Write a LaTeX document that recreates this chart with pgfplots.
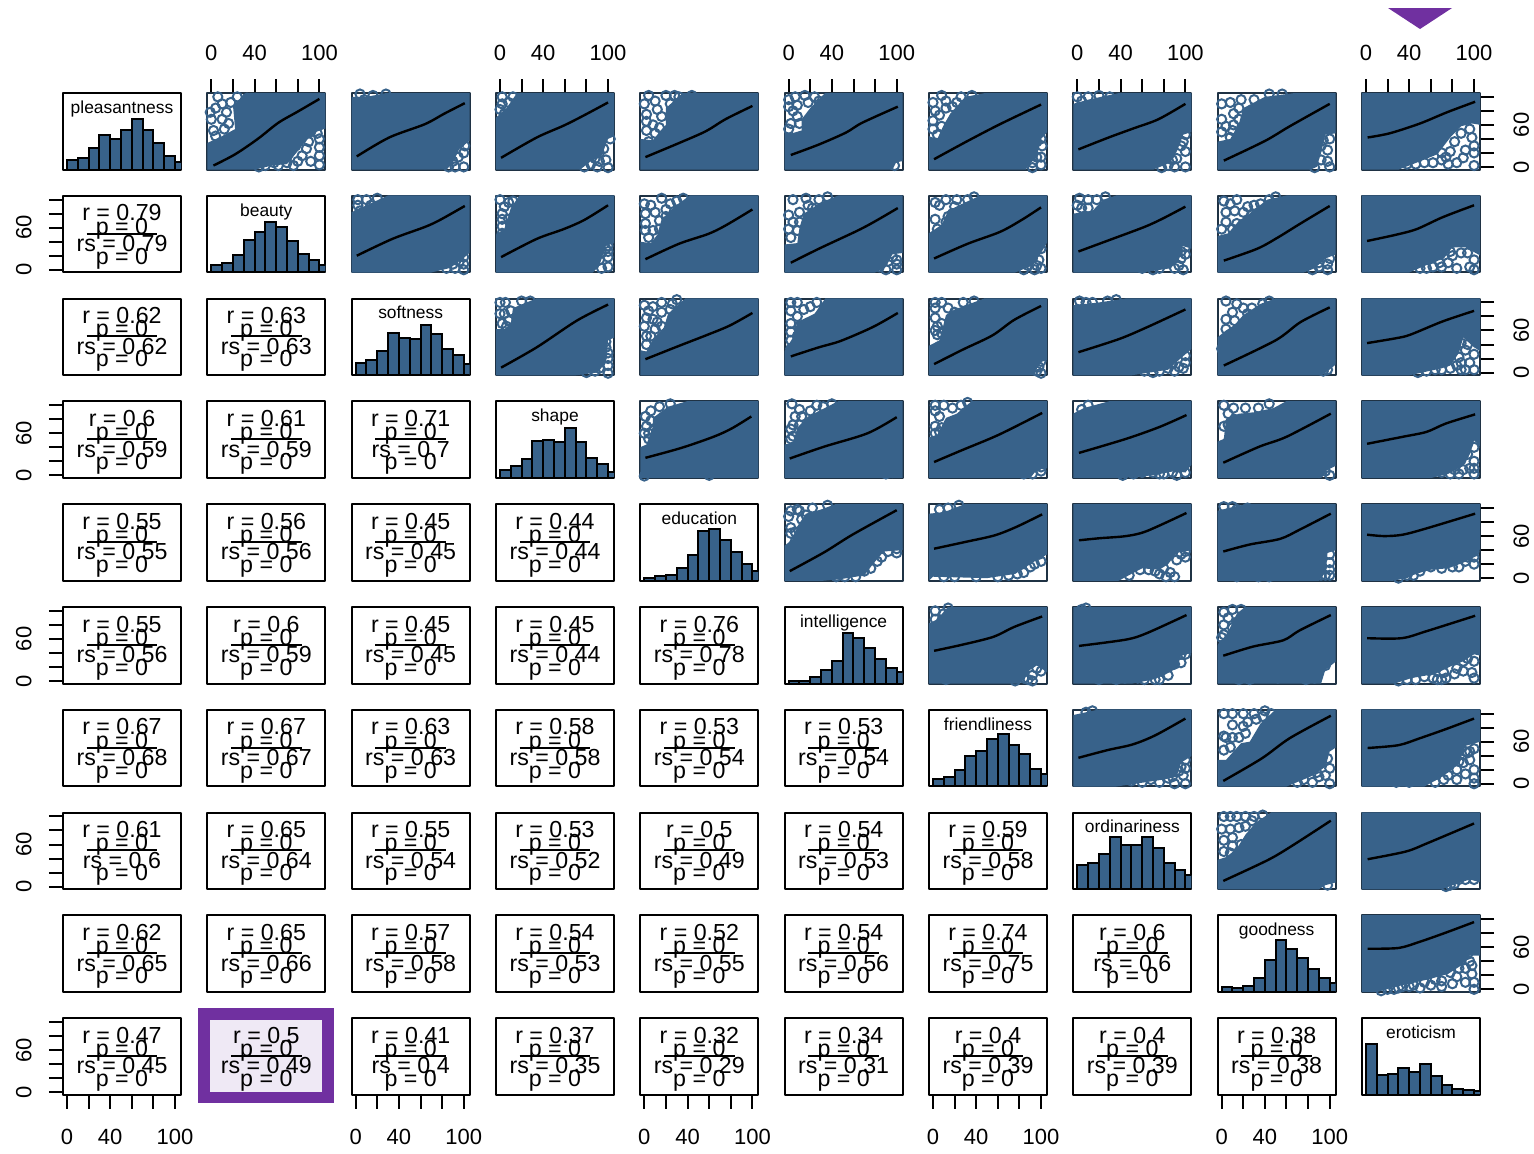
\documentclass[border=0pt]{standalone}
\usepackage{fontspec}
\setmainfont{Liberation Sans}
\usepackage{pgfplots}
\pgfplotsset{compat=1.18}
\definecolor{cblue}{HTML}{38628A}
\definecolor{cframe}{HTML}{1F3244}
\definecolor{cpurple}{HTML}{7030A0}
\definecolor{clav}{HTML}{EFE9F5}
\newcommand\tfont{\fontsize{11}{13}\selectfont}
\newcommand\lfont{\fontsize{8.7}{10}\selectfont}
\newcommand\cfont{\fontsize{11.6}{13}\selectfont}
\pgfplotsset{
 panel/.style={scale only axis,width=59pt,height=38.25pt,anchor=north west,
  xmin=-3.7,xmax=105.5,ymin=-3.7,ymax=105.5,xtick=\empty,ytick=\empty,
  axis line style={line width=1pt,line join=round},
  tick style={line width=1pt,black},tick align=outside,major tick length=7pt,
  tick label style={inner sep=0pt,font=\tfont}},
 topt/.style={xtick={0,20,40,60,80,100},xticklabels={0,,40,,,100},xtick pos=top,xticklabel pos=top,
  xticklabel style={anchor=south,yshift=9pt}},
 bott/.style={xtick={0,20,40,60,80,100},xticklabels={0,,40,,,100},xtick pos=bottom,xticklabel pos=bottom,
  xticklabel style={anchor=north,yshift=-10pt}},
 leftt/.style={ytick={0,20,40,60,80,100},yticklabels={0,,,60,,},ytick pos=left,yticklabel pos=left,
  yticklabel style={rotate=90,anchor=south,yshift=8.5pt}},
 rightt/.style={ytick={0,20,40,60,80,100},yticklabels={0,,,60,,},ytick pos=right,yticklabel pos=right,
  yticklabel style={rotate=90,anchor=north,yshift=-9.5pt}},
 t1-2/.style={topt},t1-4/.style={topt},t1-6/.style={topt},t1-8/.style={topt},t1-10/.style={topt},
 t10-1/.style={bott,leftt},t10-3/.style={bott},t10-5/.style={bott},t10-7/.style={bott},t10-9/.style={bott},
 t2-1/.style={leftt},t4-1/.style={leftt},t6-1/.style={leftt},t8-1/.style={leftt},
 t1-10x/.style={rightt},t3-10/.style={rightt},t5-10/.style={rightt},t7-10/.style={rightt},t9-10/.style={rightt},
}
\newcommand\setpos[2]{%
 \pgfmathsetmacro\PX{(63+144.33*(#2-1))*0.5}%
 \pgfmathsetmacro\PY{-(93+102.8*(#1-1))*0.5}}
% scatter panel: row, col, dense cloud outline, readable outlying points, smoother
\newcommand\Sc[5]{\setpos{#1}{#2}%
 \begin{axis}[panel,at={(\PX pt,\PY pt)},axis line style={draw=cframe},t#1-#2/.try,t#1-#2x/.try]
 \addplot[draw=none,fill=cblue] coordinates {#3} --cycle;
 \addplot[only marks,mark=o,mark size=2.3pt,draw=cblue,mark options={line width=1pt}] coordinates {#4};
 \addplot[black,line width=1.2pt,line join=round,smooth,tension=.5] coordinates {#5};
 \end{axis}}
% histogram panel
\newcommand\Hi[4]{\setpos{#1}{#1}%
 \begin{axis}[panel,at={(\PX pt,\PY pt)},ymin=0,ymax=228,axis line style={black}]
 \addplot[ybar interval,fill=cblue,draw=black,line width=1pt] coordinates {#4};
 \node[anchor=base,font=\lfont,inner sep=0pt] at (rel axis cs:0.5,0.735) {#3};
 \end{axis}}
% correlation panel
\newcommand\Co[4]{\setpos{#1}{#2}%
 \begin{axis}[panel,at={(\PX pt,\PY pt)},axis line style={black},t#1-#2/.try]
 \Cotext{#3}{#4}
 \end{axis}}
\newcommand\Cotext[2]{%
 \node[anchor=base,font=\cfont,inner sep=0pt] at (rel axis cs:0.5,0.673) {r = #1};
 \node[anchor=base,font=\cfont,inner sep=0pt] at (rel axis cs:0.5,0.499) {p = 0};
 \draw[black,line width=1pt] (rel axis cs:0.2,0.507) -- (rel axis cs:0.8,0.507);
 \node[anchor=base,font=\cfont,inner sep=0pt] at (rel axis cs:0.5,0.272) {rs = #2};
 \node[anchor=base,font=\cfont,inner sep=0pt] at (rel axis cs:0.5,0.107) {p = 0};}
\begin{document}
\begin{tikzpicture}[x=1pt,y=1pt]
\path[use as bounding box] (0,0) rectangle (767,-576.5);
\fill[cpurple] (694,-4) -- (726,-4) -- (710,-14.5) -- cycle;
\fill[cpurple] (99,-504) rectangle (167,-551.5);
\fill[clav] (105,-510) rectangle (161,-546);

\Hi{1}{1}{pleasantness}{(0,27)(10,34)(20,63)(30,102)(40,92)(50,117)(60,151)(70,117)(80,79)(90,40)(100,22)(110,0)}
\Hi{2}{2}{beauty}{(0,23)(10,27)(20,53)(30,95)(40,121)(50,150)(60,134)(70,92)(80,56)(90,36)(100,23)(110,0)}
\Hi{3}{3}{softness}{(0,37)(10,46)(20,72)(30,125)(40,111)(50,107)(60,150)(70,122)(80,79)(90,59)(100,32)(110,0)}
\Hi{4}{4}{shape}{(0,23)(10,37)(20,55)(30,110)(40,113)(50,107)(60,150)(70,107)(80,59)(90,40)(100,17)(110,0)}
\Hi{5}{5}{education}{(0,8)(10,13)(20,18)(30,38)(40,77)(50,148)(60,153)(70,120)(80,87)(90,51)(100,30)(110,0)}
\Hi{6}{6}{intelligence}{(0,7)(10,9)(20,19)(30,39)(40,67)(50,152)(60,137)(70,107)(80,72)(90,47)(100,34)(110,0)}
\Hi{7}{7}{friendliness}{(0,23)(10,28)(20,48)(30,90)(40,106)(50,141)(60,155)(70,122)(80,96)(90,53)(100,36)(110,0)}
\Hi{8}{8}{ordinariness}{(0,72)(10,77)(20,104)(30,155)(40,131)(50,131)(60,155)(70,122)(80,77)(90,57)(100,42)(110,0)}
\Hi{9}{9}{goodness}{(0,14)(10,11)(20,17)(30,43)(40,95)(50,155)(60,128)(70,101)(80,69)(90,43)(100,28)(110,0)}
\Hi{10}{10}{eroticism}{(0,150)(10,59)(20,63)(30,79)(40,69)(50,92)(60,55)(70,30)(80,17)(90,13)(100,10)(110,0)}

\Co{2}{1}{0.79}{0.79}
\Co{3}{1}{0.62}{0.62}\Co{3}{2}{0.63}{0.63}
\Co{4}{1}{0.6}{0.59}\Co{4}{2}{0.61}{0.59}\Co{4}{3}{0.71}{0.7}
\Co{5}{1}{0.55}{0.55}\Co{5}{2}{0.56}{0.56}\Co{5}{3}{0.45}{0.45}\Co{5}{4}{0.44}{0.44}
\Co{6}{1}{0.55}{0.56}\Co{6}{2}{0.6}{0.59}\Co{6}{3}{0.45}{0.45}\Co{6}{4}{0.45}{0.44}\Co{6}{5}{0.76}{0.78}
\Co{7}{1}{0.67}{0.68}\Co{7}{2}{0.67}{0.67}\Co{7}{3}{0.63}{0.63}\Co{7}{4}{0.58}{0.58}\Co{7}{5}{0.53}{0.54}\Co{7}{6}{0.53}{0.54}
\Co{8}{1}{0.61}{0.6}\Co{8}{2}{0.65}{0.64}\Co{8}{3}{0.55}{0.54}\Co{8}{4}{0.53}{0.52}\Co{8}{5}{0.5}{0.49}\Co{8}{6}{0.54}{0.53}\Co{8}{7}{0.59}{0.58}
\Co{9}{1}{0.62}{0.65}\Co{9}{2}{0.65}{0.66}\Co{9}{3}{0.57}{0.58}\Co{9}{4}{0.54}{0.53}\Co{9}{5}{0.52}{0.55}\Co{9}{6}{0.54}{0.56}\Co{9}{7}{0.74}{0.75}\Co{9}{8}{0.6}{0.6}
\Co{10}{1}{0.47}{0.45}
\setpos{10}{2}
\begin{axis}[panel,at={(\PX pt,\PY pt)},axis line style={draw=none}]
\Cotext{0.5}{0.49}
\end{axis}
\Co{10}{3}{0.41}{0.4}\Co{10}{4}{0.37}{0.35}\Co{10}{5}{0.32}{0.29}\Co{10}{6}{0.34}{0.31}\Co{10}{7}{0.4}{0.39}\Co{10}{8}{0.4}{0.39}\Co{10}{9}{0.38}{0.38}

\Sc{1}{2}{(-4,34)(10,44)(22,54)(20,88)(33,106)(106,106)(106,55)(97,50)(88,38)(76,15)(70,4)(56,2)(40,-4)(-4,-4)}{(10,68)(0,68)(18,92)(2,52)(33,98)(4,84)(100,28)(100,16)(100,3)(80,8)(88,26)(98,48)(70,6)(58,6)(6,100)(14,78)(4,44)(12,54)(-1,78)(24,100)(10,90)(16,62)(92,50)(84,42)(90,36)(100,40)(78,30)(92,8)(84,16)(70,14)(62,2)(50,2)(76,2)(44,0)}{(2,2)(22,18)(43,40)(62,63)(80,79)(100,97)}
\Sc{1}{3}{(-4,100)(10,100)(30,106)(106,106)(106,38)(96,26)(90,6)(84,-4)(-4,-4)}{(8,96)(95,14)(100,0)(100,20)(101,30)(4,104)(16,102)(28,104)(96,34)(90,8)(92,0)(86,0)}{(1,15)(31,42)(64,61)(82,76)(101,91)}
\Sc{1}{4}{(-4,70)(6,84)(16,106)(106,106)(106,44)(100,40)(94,16)(84,8)(74,-4)(-4,-4)}{(4,76)(8,92)(2,90)(96,26)(98,10)(100,-1)(84,4)(88,12)(2,100)(12,100)(0,82)(92,8)(90,0)(78,0)(102,40)(92,20)}{(1,13)(34,42)(59,59)(77,73)(100,92)}
\Sc{1}{5}{(-4,40)(8,38)(14,50)(20,60)(20,84)(36,106)(106,106)(106,-4)(-4,-4)}{(2,65)(2,75)(4,102)(20,102)(16,72)(24,90)(32,100)(44,102)(2,52)(98,5)(98,14)(92,10)(10,94)(0,90)(12,82)(8,60)(14,56)(28,102)(36,96)(4,36)(10,48)}{(1,14)(32,34)(57,51)(75,68)(100,87)}
\Sc{1}{6}{(-4,50)(3,48)(12,52)(12,68)(20,84)(34,106)(106,106)(106,8)(100,8)(96,-4)(-4,-4)}{(0,96)(0,86)(15,102)(0,54)(2,62)(8,72)(92,14)(100,14)(98,2)(8,88)(18,92)(4,80)(24,100)(28,94)(10,62)(6,100)}{(2,17)(28,32)(53,49)(68,63)(101,86)}
\Sc{1}{7}{(-4,44)(4,40)(10,60)(16,76)(30,100)(50,106)(106,106)(106,50)(100,40)(96,14)(88,2)(86,-4)(-4,-4)}{(0,92)(0,66)(0,54)(12,94)(12,84)(18,86)(8,102)(96,14)(100,3)(100,14)(101,30)(96,36)(2,80)(8,58)(6,74)(22,92)(26,100)(36,102)(4,46)(92,6)(92,-1)(100,40)}{(1,11)(32,37)(62,61)(100,89)}
\Sc{1}{8}{(-4,90)(10,96)(40,106)(106,106)(106,50)(98,46)(92,22)(86,6)(70,-4)(-4,-4)}{(4,94)(10,100)(30,100)(92,12)(100,0)(90,0)(84,2)(100,22)(98,36)(20,102)(0,100)(96,30)(88,10)(100,46)(78,-1)}{(1,25)(29,42)(52,55)(75,68)(100,90)}
\Sc{1}{9}{(-4,36)(8,40)(16,62)(20,84)(40,100)(70,106)(106,106)(106,48)(96,46)(92,20)(88,0)(82,-4)(-4,-4)}{(11,76)(11,60)(0,50)(8,92)(0,90)(18,96)(8,42)(16,68)(98,24)(98,8)(100,0)(94,38)(0,68)(4,58)(16,84)(30,96)(44,104)(56,104)(10,52)(92,30)(92,10)(86,-1)(100,40)}{(2,9)(40,37)(63,58)(100,90)}
\Sc{1}{10}{(-4,-4)(-4,106)(106,106)(106,60)(98,62)(88,58)(78,42)(66,18)(50,8)(30,-4)}{(90,13)(70,10)(78,22)(100,30)(100,20)(84,6)(100,2)(62,6)(46,4)(38,4)(76,4)(88,48)(96,54)(82,36)(92,24)(74,14)(54,6)(98,42)(70,20)}{(1.5,42)(22,48)(50,62)(75,78)(101,93)}

\Sc{2}{3}{(-4,82)(10,92)(30,106)(106,106)(106,25)(98,14)(86,2)(70,-4)(-4,-4)}{(2,92)(2,100)(10,100)(20,102)(96,12)(100,18)(92,2)(100,0)(84,2)(14,92)(4,84)(90,8)(100,8)}{(1,20)(34,44)(64,61)(78,71)(101,91)}
\Sc{2}{4}{(-4,50)(4,58)(10,88)(18,106)(106,106)(106,38)(98,34)(92,6)(86,-4)(-4,-4)}{(2,62)(2,80)(8,96)(0,100)(4,90)(98,30)(100,18)(100,4)(92,14)(2,52)(8,72)(12,98)(2,72)(100,34)(94,24)(94,2)(100,26)}{(1,18)(34,44)(59,58)(78,71)(100,92)}
\Sc{2}{5}{(-4,40)(6,38)(12,50)(16,72)(28,90)(42,106)(106,106)(106,-4)(-4,-4)}{(1,80)(1,66)(1,56)(16,102)(30,98)(14,70)(20,76)(24,94)(4,46)(97,14)(93,8)(100,5)(6,92)(0,94)(8,56)(10,82)(20,86)(36,102)(14,58)}{(1,15)(32,37)(59,51)(75,63)(100,86)}
\Sc{2}{6}{(-4,36)(8,38)(10,60)(14,80)(30,96)(46,106)(106,106)(106,24)(96,22)(90,4)(80,-4)(-4,-4)}{(0,78)(10,82)(10,68)(18,92)(28,100)(0,58)(8,56)(100,8)(92,12)(100,14)(84,4)(4,100)(16,102)(36,104)(22,88)(4,68)(2,46)(96,18)(90,0)(100,0)}{(2,10)(28,30)(64,56)(81,70)(101,88)}
\Sc{2}{7}{(-4,52)(8,64)(14,84)(24,92)(44,106)(106,106)(106,40)(100,24)(92,6)(76,-4)(-4,-4)}{(2,72)(12,100)(22,100)(6,92)(14,76)(18,80)(2,96)(98,14)(92,16)(100,2)(88,6)(78,6)(32,100)(12,68)(20,90)(4,58)(38,104)(100,30)(96,6)(94,0)(84,0)}{(1,16)(32,37)(62,54)(82,71)(100,89)}
\Sc{2}{8}{(-4,80)(14,84)(24,100)(36,106)(106,106)(106,30)(97,34)(94,14)(86,2)(60,-4)(-4,-4)}{(2,102)(10,100)(18,100)(4,88)(94,6)(96,16)(90,2)(52,6)(60,2)(100,22)(96,26)(26,104)(0,92)(10,88)(100,32)(92,24)(98,0)(76,2)(70,0)}{(1,26)(29,42)(62,61)(79,73)(100,90)}
\Sc{2}{9}{(-4,48)(6,52)(16,70)(24,78)(42,100)(60,106)(106,106)(106,22)(96,16)(86,2)(76,-4)(-4,-4)}{(2,98)(14,100)(4,82)(12,84)(20,82)(28,78)(4,68)(14,66)(36,94)(44,100)(98,8)(98,0)(90,4)(24,90)(30,92)(8,94)(50,104)(0,58)(10,58)(90,10)(84,0)(100,16)}{(2,13)(33,30)(52,46)(73,66)(100,91)}
\Sc{2}{10}{(-4,-4)(-4,106)(106,106)(106,20)(92,32)(80,32)(72,16)(58,8)(40,-4)}{(84,2)(70,4)(62,4)(50,2)(96,4)(100,14)(94,24)(88,24)(78,26)(68,10)(56,2)(76,10)(100,0)(80,20)}{(1,41)(28,50)(47,58)(71,75)(100,92)}

\Sc{3}{4}{(-4,62)(4,62)(10,70)(12,92)(34,106)(106,106)(106,50)(100,46)(98,14)(90,0)(70,-4)(-4,-4)}{(5,100)(10,88)(0,100)(2,70)(6,66)(98,44)(98,36)(94,22)(100,-1)(88,2)(100,10)(4,84)(0,84)(8,74)(20,102)(28,102)(100,28)(100,20)(92,6)(80,0)}{(1,7)(34,36)(71,74)(100,97)}
\Sc{3}{5}{(-4,32)(2,30)(8,48)(18,64)(22,84)(38,106)(106,106)(106,-4)(-4,-4)}{(2,78)(4,88)(16,86)(0,96)(16,100)(0,66)(10,62)(6,52)(26,98)(2,40)(8,76)(2,52)(8,94)(24,90)(30,104)(12,72)(16,66)}{(1,19)(32,38)(57,53)(79,67)(100,85)}
\Sc{3}{6}{(-4,30)(4,50)(8,72)(24,84)(34,106)(106,106)(106,-4)(-4,-4)}{(2,100)(2,88)(2,70)(2,58)(2,46)(14,90)(14,60)(8,40)(96,6)(98,14)(8,100)(8,80)(2,34)(20,94)(26,100)(10,66)(8,52)}{(2,23)(28,36)(48,45)(78,65)(101,85)}
\Sc{3}{7}{(-4,38)(6,46)(12,82)(20,90)(48,106)(106,106)(106,18)(98,14)(94,-4)(-4,-4)}{(2,100)(2,92)(2,78)(14,92)(20,86)(4,66)(4,54)(98,8)(100,-1)(100,16)(100,28)(2,60)(8,100)(8,70)(28,100)(38,102)(8,56)(96,18)(96,2)}{(1,12)(28,33)(55,53)(75,75)(100,95)}
\Sc{3}{8}{(-4,96)(20,100)(46,106)(106,106)(106,34)(94,18)(84,4)(50,-4)(-4,-4)}{(2,102)(14,100)(100,24)(100,14)(94,8)(90,2)(76,2)(62,2)(98,34)(8,100)(28,102)(36,104)(88,12)(84,6)(98,6)(70,0)}{(1,29)(39,48)(65,65)(100,90)}
\Sc{3}{9}{(-4,50)(4,60)(12,68)(20,82)(36,98)(50,106)(106,106)(106,12)(98,2)(92,-4)(-4,-4)}{(4,102)(14,98)(4,76)(12,74)(4,62)(18,60)(0,34)(16,48)(38,98)(44,102)(98,4)(100,18)(10,86)(20,92)(28,92)(24,84)(8,54)(46,106)(94,2)}{(2,10)(50,46)(73,72)(100,93)}
\Sc{3}{10}{(-4,-4)(-4,106)(106,106)(106,30)(100,36)(90,50)(86,28)(78,10)(70,6)(40,-4)}{(88,4)(92,4)(100,4)(84,10)(86,22)(92,32)(88,42)(96,14)(70,4)(56,2)(94,40)(88,14)(78,6)(100,26)(64,4)(48,0)}{(1,42)(28,49)(41,54)(71,73)(100,88)}

\Sc{4}{5}{(-4,40)(2,44)(8,70)(8,82)(22,98)(40,106)(106,106)(106,-4)(-4,-4)}{(1,84)(2,70)(0,60)(4,52)(14,56)(100,14)(96,6)(0,-1)(60,0)(6,92)(14,98)(24,102)(4,60)(8,64)(6,78)}{(1,25)(34,39)(64,55)(81,67)(99,84)}
\Sc{4}{6}{(-4,44)(4,46)(8,68)(18,84)(36,98)(46,106)(106,106)(106,-4)(-4,-4)}{(3,102)(12,84)(2,66)(4,72)(40,102)(32,98)(2,52)(14,60)(96,4)(90,2)(10,94)(20,92)(26,100)(4,56)(10,72)(6,84)}{(1,24)(33,41)(73,60)(100,83)}
\Sc{4}{7}{(-4,54)(4,58)(12,82)(22,88)(36,106)(106,106)(106,10)(96,8)(90,-4)(-4,-4)}{(10,100)(2,100)(2,92)(2,70)(8,68)(96,14)(90,10)(100,6)(84,2)(18,96)(26,100)(6,84)(6,62)(2,60)(92,2)(100,12)(32,104)}{(1,19)(27,36)(61,58)(101,89)}
\Sc{4}{8}{(-4,88)(6,96)(30,106)(106,106)(106,16)(100,4)(90,6)(70,0)(40,-4)(-4,-4)}{(52,2)(70,4)(100,4)(96,14)(80,2)(60,4)(4,94)(10,100)(42,0)(88,4)(76,2)(92,0)}{(1.5,32)(45,52)(76,69)(101,86)}
\Sc{4}{9}{(-4,48)(2,52)(4,80)(16,88)(30,90)(48,96)(60,106)(106,106)(106,14)(96,6)(92,-4)(-4,-4)}{(11,96)(2,100)(12,80)(10,60)(2,70)(96,6)(100,0)(90,4)(12,54)(6,48)(6,88)(22,96)(34,96)(44,102)(6,72)(12,66)(92,8)}{(1.5,18)(35,41)(60,55)(101,88)}
\Sc{4}{10}{(-4,-4)(-4,106)(106,106)(106,40)(100,50)(96,30)(88,12)(76,2)(60,-4)}{(96,10)(90,8)(100,10)(94,30)(94,44)(100,20)(100,2)(70,4)(86,2)(88,22)(82,8)(90,28)(100,40)(78,2)}{(1,45)(34,55)(56,62)(74,74)(101,87)}

\Sc{5}{6}{(-4,46)(4,56)(8,74)(16,92)(30,98)(44,106)(106,106)(106,40)(88,38)(78,20)(70,4)(46,-2)(30,-4)(-4,-4)}{(8,98)(16,90)(2,72)(2,64)(6,66)(12,84)(52,2)(62,2)(70,10)(82,24)(92,38)(100,42)(0,88)(2,96)(22,100)(36,104)(10,96)(100,36)(86,30)(76,14)(44,2)(6,52)}{(1,10)(33,37)(59,62)(100,97)}
\Sc{5}{7}{(-4,92)(10,94)(30,106)(106,106)(106,34)(96,26)(86,16)(76,6)(50,0)(0,2)(-4,-4)}{(90,16)(70,4)(60,2)(78,6)(6,98)(10,2)(98,34)(84,8)(94,20)(100,24)(14,100)(24,104)(40,2)(20,2)}{(1,42)(31,52)(57,61)(77,73)(101,91)}
\Sc{5}{8}{(-4,-4)(-4,106)(106,106)(106,40)(92,36)(84,20)(76,12)(60,14)(50,6)(38,-4)}{(92,26)(86,8)(82,2)(90,2)(100,38)(72,10)(58,12)(80,14)(96,34)(66,12)(48,4)(100,30)(76,6)}{(1.5,54)(21,57)(45,60)(64,67)(101,93)}
\Sc{5}{9}{(-4,96)(6,100)(24,106)(106,106)(106,40)(98,36)(96,8)(90,-4)(-4,-4)}{(100,34)(100,22)(100,12)(92,4)(34,2)(44,2)(14,2)(16,62)(16,72)(14,98)(24,100)(96,4)(100,4)(10,102)(2,102)}{(1.5,38)(26,48)(54,56)(72,69)(101,92)}
\Sc{5}{10}{(-4,-4)(-4,106)(106,106)(106,42)(100,30)(90,22)(76,14)(60,12)(46,6)(38,0)(24,-4)}{(100,30)(100,20)(94,30)(92,24)(80,16)(70,14)(60,16)(38,4)(94,42)(86,16)(50,10)(44,4)(100,38)(30,0)}{(1,62)(17,60)(34,62)(56,71)(101,92)}

\Sc{6}{7}{(-4,82)(4,88)(14,106)(106,106)(106,12)(96,22)(88,14)(84,2)(80,-4)(-4,-4)}{(2,100)(10,96)(8,86)(90,40)(94,30)(100,36)(92,0)(84,4)(88,2)(12,2)(2,88)(14,104)(84,14)(92,8)(96,18)(100,14)(76,0)}{(1,43)(28,52)(56,63)(75,77)(101,92)}
\Sc{6}{8}{(-4,-4)(-4,106)(106,106)(106,40)(96,36)(92,18)(80,8)(70,2)(50,-4)}{(90,24)(88,30)(72,2)(76,2)(56,4)(44,4)(36,2)(20,2)(96,38)(4,102)(96,26)(84,8)(62,2)(100,38)(2,96)(8,104)}{(1.5,50)(45,59)(64,68)(101,94)}
\Sc{6}{9}{(-4,50)(6,70)(14,96)(22,106)(106,106)(106,28)(96,16)(92,-4)(-4,-4)}{(2,98)(10,102)(18,102)(14,84)(2,52)(2,66)(90,22)(92,28)(78,2)(16,2)(26,2)(52,4)(6,90)(10,76)(2,80)(96,22)(86,4)(0,62)}{(1.5,36)(29,49)(57,58)(72,72)(101,94)}
\Sc{6}{10}{(-4,-4)(-4,106)(106,106)(106,36)(100,38)(90,28)(80,22)(64,10)(42,4)(26,-4)}{(100,4)(98,12)(62,4)(66,2)(70,2)(74,4)(38,2)(46,2)(84,18)(90,28)(94,32)(90,14)(82,10)(72,12)(54,6)(30,0)(100,28)}{(1,61)(33,61)(56,71)(101,93)}

\Sc{7}{8}{(-4,98)(20,106)(106,106)(106,40)(96,30)(92,10)(80,6)(36,-4)(-4,-4)}{(96,24)(100,22)(98,12)(100,0)(90,0)(84,8)(68,6)(50,4)(8,102)(92,34)(14,104)(88,10)(76,2)(60,2)(100,34)(94,18)}{(1,37)(28,48)(51,56)(72,69)(100,93)}
\Sc{7}{9}{(-4,34)(4,34)(18,58)(26,60)(36,86)(50,106)(106,106)(106,52)(100,46)(96,24)(82,10)(60,-4)(-4,-4)}{(10,100)(10,84)(20,82)(30,100)(40,104)(46,100)(10,66)(4,66)(22,72)(2,48)(96,12)(100,0)(84,2)(98,36)(76,6)(100,22)(2,100)(20,100)(16,66)(24,88)(32,92)(38,96)(2,68)(8,52)(90,10)(70,2)(92,32)(88,16)}{(1.5,4)(37,36)(63,65)(101,97)}
\Sc{7}{10}{(-4,-4)(-4,106)(106,106)(106,60)(92,54)(86,30)(78,18)(66,6)(54,-4)}{(94,44)(96,34)(90,30)(100,20)(100,8)(100,0)(84,6)(92,14)(72,6)(96,46)(28,2)(40,2)(84,20)(76,12)(64,2)(92,46)(100,50)(86,32)}{(1.5,51)(30,55)(50,65)(74,78)(100,93)}

\Sc{8}{9}{(-4,38)(4,42)(14,54)(22,74)(32,92)(46,106)(106,106)(106,6)(96,2)(90,-4)(-4,-4)}{(2,100)(14,100)(30,100)(8,82)(16,84)(2,66)(18,60)(10,58)(2,50)(98,2)(8,100)(22,100)(38,102)(22,86)(28,94)(8,48)(0,82)(10,70)}{(1.5,8)(43,38)(66,59)(101,94)}
\Sc{8}{10}{(-4,-4)(-4,106)(106,106)(106,6)(96,10)(84,4)(70,-4)}{(92,28)(96,34)(88,46)(96,18)(88,22)(86,10)(78,2)(82,4)(92,10)(100,10)(74,0)(92,44)}{(1.5,39)(37,50)(57,62)(100,90)}

\Sc{9}{10}{(-4,-4)(-4,106)(106,106)(106,48)(96,48)(88,34)(76,22)(62,16)(46,10)(28,4)(10,-4)}{(96,40)(88,42)(92,30)(98,22)(100,10)(100,0)(92,10)(84,18)(80,8)(70,4)(60,6)(50,2)(40,4)(30,2)(20,0)(94,50)(86,30)(78,24)(70,12)(64,14)(54,10)(44,6)(34,4)(26,0)(14,-2)(98,34)}{(1.5,58)(30,59)(50,68)(74,81)(100,96)}
\end{tikzpicture}
\end{document}
